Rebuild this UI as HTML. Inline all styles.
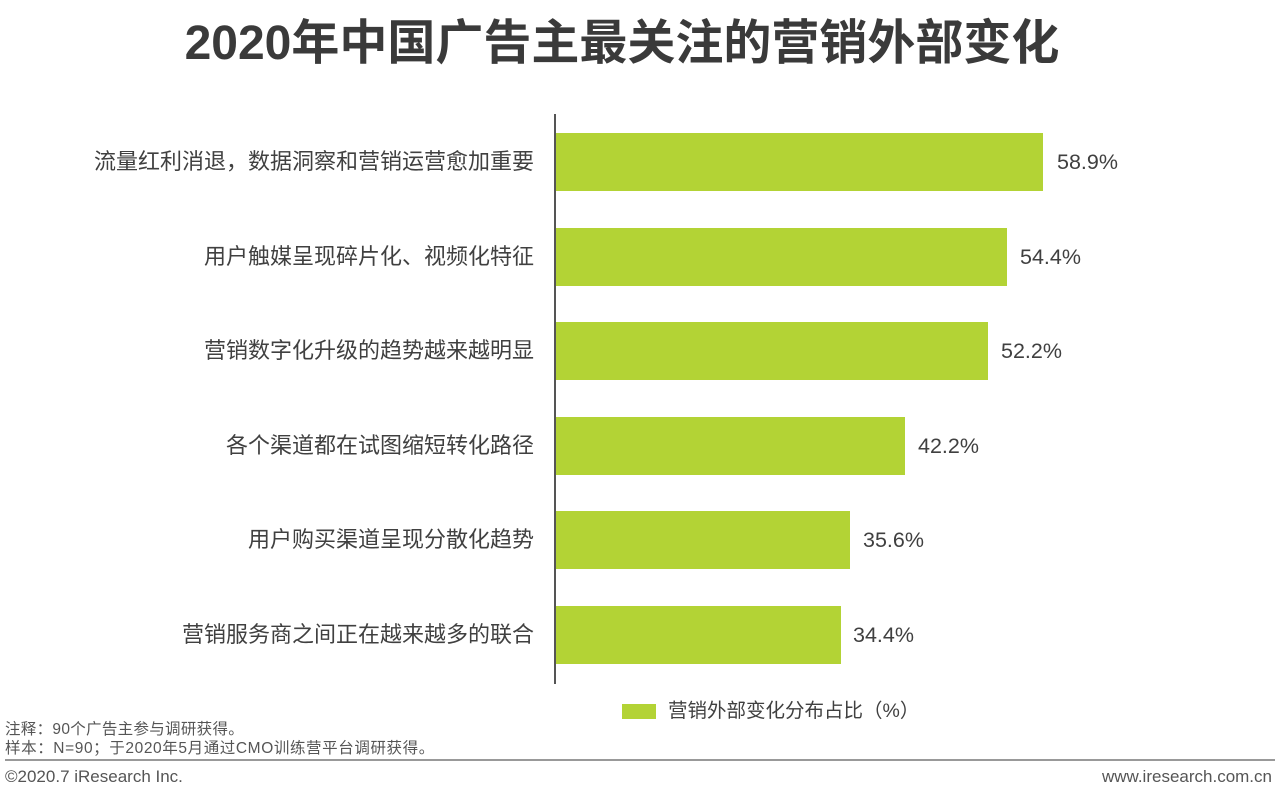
<!DOCTYPE html>
<html><head><meta charset="utf-8"><style>
body{margin:0;width:1280px;height:803px;background:#fff;position:relative;overflow:hidden;font-family:"Liberation Sans","Noto Sans CJK SC",sans-serif;color:#404040}
.a{position:absolute;white-space:nowrap}
.t{left:0;width:1244px;text-align:center;top:12px;font-size:48px;font-weight:bold;color:#3a3a3a;line-height:64px}
.lab{right:746px;font-size:22px;line-height:26px;color:#404040}
.bar{position:absolute;left:556px;height:58px;background:#b3d335}
.v{font-size:21.5px;line-height:26px;color:#404040}
.s{font-size:15.5px;color:#555;line-height:18px}
</style></head><body>
<div class="a t">2020年中国广告主最关注的营销外部变化</div>
<div class="a" style="left:554px;top:114px;width:2px;height:570px;background:#555"></div>

<div class="a lab" style="top:149px">流量红利消退，数据洞察和营销运营愈加重要</div>
<div class="bar" style="top:133px;width:487px"></div>
<div class="a v" style="left:1057px;top:149px">58.9%</div>

<div class="a lab" style="top:244px">用户触媒呈现碎片化、视频化特征</div>
<div class="bar" style="top:228px;width:451px"></div>
<div class="a v" style="left:1020px;top:244px">54.4%</div>

<div class="a lab" style="top:338px">营销数字化升级的趋势越来越明显</div>
<div class="bar" style="top:322px;width:432px"></div>
<div class="a v" style="left:1001px;top:338px">52.2%</div>

<div class="a lab" style="top:433px">各个渠道都在试图缩短转化路径</div>
<div class="bar" style="top:417px;width:349px"></div>
<div class="a v" style="left:918px;top:433px">42.2%</div>

<div class="a lab" style="top:527px">用户购买渠道呈现分散化趋势</div>
<div class="bar" style="top:511px;width:294px"></div>
<div class="a v" style="left:863px;top:527px">35.6%</div>

<div class="a lab" style="top:622px">营销服务商之间正在越来越多的联合</div>
<div class="bar" style="top:606px;width:285px"></div>
<div class="a v" style="left:853px;top:622px">34.4%</div>

<div class="a" style="left:622px;top:704px;width:34px;height:15px;background:#b3d335"></div>
<div class="a" style="left:668px;top:699px;font-size:19.5px;line-height:24px;color:#404040">营销外部变化分布占比（%）</div>

<div class="a s" style="left:5px;top:721px;letter-spacing:0.3px">注释：90个广告主参与调研获得。</div>
<div class="a s" style="left:5px;top:740px;letter-spacing:0.6px">样本：N=90；于2020年5月通过CMO训练营平台调研获得。</div>
<div class="a" style="left:5px;top:759px;width:1270px;height:2px;background:#999"></div>
<div class="a s" style="left:5px;top:767px;font-size:17px;line-height:20px">©2020.7 iResearch Inc.</div>
<div class="a s" style="right:8px;top:767px;font-size:17px;line-height:20px">www.iresearch.com.cn</div>
</body></html>
